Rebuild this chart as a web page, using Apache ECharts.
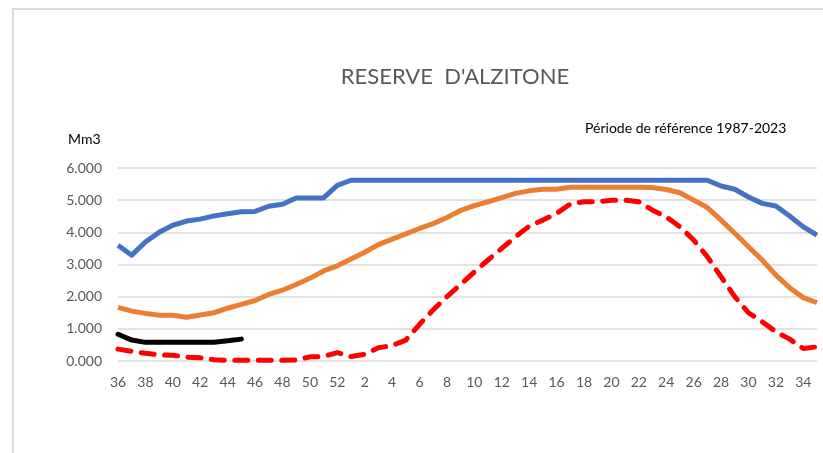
<!DOCTYPE html>
<html>
<head>
<meta charset="utf-8">
<script src="https://cdn.jsdelivr.net/npm/echarts@6/dist/echarts.min.js"></script>
<style>
  html, body { margin: 0; padding: 0; background: #fff; }
  #chart { width: 823px; height: 453px; }
</style>
</head>
<body>
<div id="chart"></div>
<script>
// semaines : de la 36 à la 52, puis de la 1 à la 35
const weeks = ['36','37','38','39','40','41','42','43','44','45','46','47','48','49','50','51','52',
  '1','2','3','4','5','6','7','8','9','10','11','12','13','14','15','16','17','18','19','20',
  '21','22','23','24','25','26','27','28','29','30','31','32','33','34','35']

// courbe bleue (haut)
const maxi = [3.60, 3.29, 3.70, 4.00, 4.22, 4.35, 4.41, 4.51, 4.58, 4.64, 4.65, 4.81, 4.87, 5.07, 5.07, 5.07, 5.46,
  5.62, 5.62, 5.62, 5.62, 5.62, 5.62, 5.62, 5.62, 5.62, 5.62, 5.62, 5.62, 5.62, 5.62, 5.62, 5.62, 5.62, 5.62,
  5.62, 5.62, 5.62, 5.62, 5.62, 5.62, 5.62, 5.62, 5.62, 5.44, 5.34, 5.10, 4.90, 4.82, 4.51, 4.17, 3.91]

// courbe orange (moyenne)
const moyenne = [1.67, 1.55, 1.48, 1.42, 1.42, 1.36, 1.43, 1.50, 1.64, 1.76, 1.88, 2.07, 2.20, 2.38, 2.57, 2.80, 2.96,
  3.17, 3.38, 3.62, 3.79, 3.95, 4.12, 4.27, 4.46, 4.68, 4.83, 4.95, 5.08, 5.21, 5.29, 5.34, 5.34, 5.40, 5.40,
  5.40, 5.40, 5.40, 5.40, 5.39, 5.33, 5.23, 5.00, 4.77, 4.38, 3.97, 3.55, 3.14, 2.67, 2.28, 1.97, 1.81]

// courbe rouge pointillée (mini)
const mini = [0.37, 0.30, 0.24, 0.19, 0.18, 0.12, 0.10, 0.04, 0.02, 0.02, 0.02, 0.02, 0.02, 0.03, 0.13, 0.14, 0.26,
  0.14, 0.21, 0.41, 0.48, 0.65, 1.14, 1.59, 2.00, 2.38, 2.77, 3.14, 3.50, 3.86, 4.19, 4.38, 4.59, 4.88, 4.95,
  4.95, 5.00, 5.00, 4.95, 4.69, 4.48, 4.17, 3.76, 3.24, 2.62, 2.00, 1.50, 1.22, 0.91, 0.68, 0.39, 0.44]

// année en cours (noir)
const actuel = [0.83, 0.65, 0.58, 0.58, 0.58, 0.58, 0.58, 0.58, 0.63, 0.68]

const chart = echarts.init(document.getElementById('chart'))

const options = {
  animation: false,
  title: {
    text: "RESERVE  D'ALZITONE",
    left: 450,
    textAlign: 'center',
    top: 61,
    textStyle: { fontFamily: 'Lato', fontSize: 22, fontWeight: 'normal', color: '#595959' }
  },
  graphic: [
    // cadre
    { type: 'rect', shape: { x: 13, y: 9, width: 900, height: 500 },
      style: { fill: 'none', stroke: '#d9d9d9', lineWidth: 2 }, silent: true },
    { type: 'text', left: 585, top: 121,
      style: { text: 'Période de référence 1987-2023', font: '14px Lato', fill: '#000' } },
    { type: 'text', left: 68, top: 132,
      style: { text: 'Mm3', font: '14px Lato', fill: '#000' } }
  ],
  grid: { left: 118, right: 6, top: 168, bottom: 92 },
  xAxis: {
    type: 'category',
    data: weeks,
    boundaryGap: false,
    axisLine: { show: false },
    axisTick: { show: false },
    axisLabel: { interval: 1, color: '#595959', fontFamily: 'Lato', fontSize: 14, margin: 14 }
  },
  yAxis: {
    type: 'value',
    min: 0,
    max: 6,
    interval: 1,
    axisLine: { show: false },
    axisTick: { show: false },
    axisLabel: {
      color: '#595959', fontFamily: 'Lato', fontSize: 14, margin: 16,
      formatter: (v) => v.toFixed(3)
    },
    splitLine: { lineStyle: { color: '#d9d9d9', width: 1.5 } }
  },
  series: [
    { name: 'maxi', type: 'line', data: maxi, symbol: 'none',
      lineStyle: { color: '#4472c4', width: 5, join: 'round' } },
    { name: 'moyenne', type: 'line', data: moyenne, symbol: 'none',
      lineStyle: { color: '#ed7d31', width: 5, join: 'round' } },
    { name: 'mini', type: 'line', data: mini, symbol: 'none',
      lineStyle: { color: '#ff0000', width: 5, type: [13, 10.5], cap: 'round', join: 'round' } },
    { name: 'actuel', type: 'line', data: actuel, symbol: 'none',
      lineStyle: { color: '#000000', width: 5, cap: 'round', join: 'round' } }
  ]
}

chart.setOption(options)

window.addEventListener('resize', () => {
  chart.resize()
})
</script>
</body>
</html>
